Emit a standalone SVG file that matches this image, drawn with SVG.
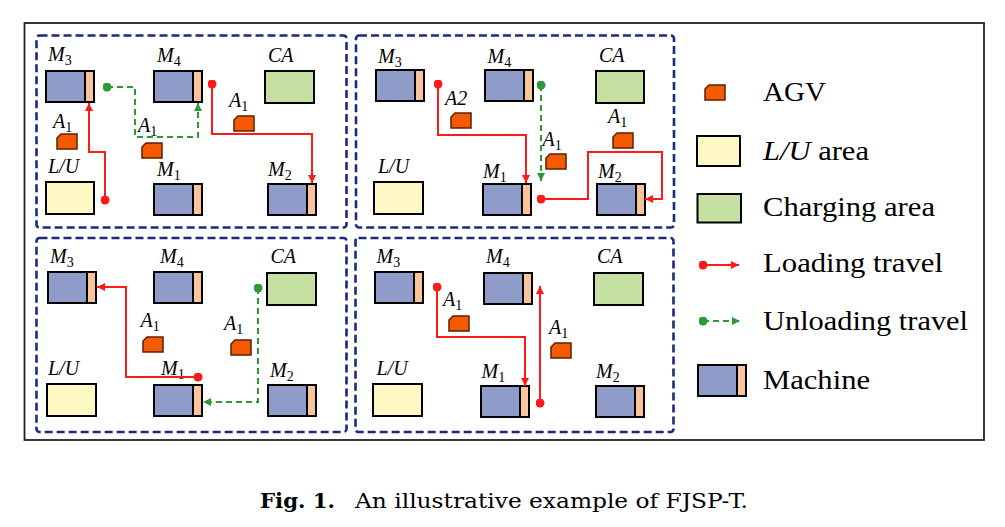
<svg xmlns="http://www.w3.org/2000/svg" xmlns:xlink="http://www.w3.org/1999/xlink" width="1005" height="527" viewBox="0 0 1005 527">
<style>
.lbl{font-family:"Liberation Serif","Times New Roman",serif;font-style:italic;font-size:20px;fill:#000}
.sub{font-size:14px;font-style:normal}
.leg{font-family:"Liberation Serif","Times New Roman",serif;font-size:26.5px;fill:#000}
.cap{font-family:"DejaVu Serif","Liberation Serif",serif;font-size:21px;fill:#000}
.panel{fill:none;stroke:#1b2a80;stroke-width:2.6;stroke-dasharray:8 4}
.ca{fill:#c6e0a1;stroke:#000;stroke-width:2}
.lu{fill:#fff8c5;stroke:#000;stroke-width:2}
.red{fill:none;stroke:#ff1a1a;stroke-width:2;marker-start:url(#dotR);marker-end:url(#arrR)}
.grn{fill:none;stroke:#2b9a34;stroke-width:2;stroke-dasharray:6 4;marker-start:url(#dotG);marker-end:url(#arrG)}
</style>
<defs>
<g id="mach">
<rect x="0" y="0" width="39" height="31" fill="#8f9bc9" stroke="#000" stroke-width="2"/>
<rect x="39" y="0" width="9" height="31" fill="#f9c49b" stroke="#000" stroke-width="2"/>
</g>
<path id="agv" d="M4,0 H20 V15 H0 V4 Z" fill="#f55a00" stroke="#5c2000" stroke-width="1.5"/>
<marker id="dotR" viewBox="0 0 10 10" refX="5" refY="5" markerWidth="9" markerHeight="9" markerUnits="userSpaceOnUse"><circle cx="5" cy="5" r="5" fill="#ff1a1a"/></marker>
<marker id="arrR" viewBox="0 0 10 10" refX="10" refY="5" markerWidth="9" markerHeight="8" orient="auto" markerUnits="userSpaceOnUse"><path d="M0,0 L10,5 L0,10 Z" fill="#ff1a1a"/></marker>
<marker id="dotG" viewBox="0 0 10 10" refX="5" refY="5" markerWidth="9" markerHeight="9" markerUnits="userSpaceOnUse"><circle cx="5" cy="5" r="5" fill="#2b9a34"/></marker>
<marker id="arrG" viewBox="0 0 10 10" refX="10" refY="5" markerWidth="9" markerHeight="8" orient="auto" markerUnits="userSpaceOnUse"><path d="M0,0 L10,5 L0,10 Z" fill="#2b9a34"/></marker>
</defs>
<rect x="0" y="0" width="1005" height="527" fill="#fff"/>
<rect id="frame" x="24.5" y="23" width="959.5" height="417" fill="none" stroke="#222" stroke-width="1.8"/>

<g id="panels">
<rect class="panel" x="36.5" y="35.5" width="310" height="192" rx="3"/>
<rect class="panel" x="356" y="35.5" width="318" height="192" rx="3"/>
<rect class="panel" x="36.5" y="238" width="310" height="194" rx="3"/>
<rect class="panel" x="355.5" y="238" width="318" height="194" rx="3"/>
</g>

<!-- Panel 1 -->
<g id="p1-M3"><use xlink:href="#mach" x="46" y="71"/><text class="lbl" x="48" y="61">M<tspan class="sub" dy="4">3</tspan></text></g>
<g id="p1-M4"><use xlink:href="#mach" x="154" y="71"/><text class="lbl" x="157" y="62">M<tspan class="sub" dy="4">4</tspan></text></g>
<g id="p1-CA"><rect class="ca" x="265" y="71" width="49" height="32"/><text class="lbl" x="268" y="62">CA</text></g>
<g id="p1-LU"><rect class="lu" x="46" y="182" width="48" height="32"/><text class="lbl" x="48" y="173">L/U</text></g>
<g id="p1-M1"><use xlink:href="#mach" x="154" y="184"/><text class="lbl" x="157" y="176">M<tspan class="sub" dy="4">1</tspan></text></g>
<g id="p1-M2"><use xlink:href="#mach" x="268" y="184"/><text class="lbl" x="268" y="176">M<tspan class="sub" dy="4">2</tspan></text></g>
<g id="p1-agv1"><use xlink:href="#agv" x="57" y="134"/><text class="lbl" x="53" y="128">A<tspan class="sub" dy="4">1</tspan></text></g>
<g id="p1-agv2"><use xlink:href="#agv" x="142" y="143"/><text class="lbl" x="138" y="132">A<tspan class="sub" dy="4">1</tspan></text></g>
<g id="p1-agv3"><use xlink:href="#agv" x="234" y="116"/><text class="lbl" x="229" y="107">A<tspan class="sub" dy="4">1</tspan></text></g>

<!-- Panel 2 -->
<g id="p2-M3"><use xlink:href="#mach" x="376" y="70"/><text class="lbl" x="378" y="63">M<tspan class="sub" dy="4">3</tspan></text></g>
<g id="p2-M4"><use xlink:href="#mach" x="485" y="70"/><text class="lbl" x="487.5" y="63">M<tspan class="sub" dy="4">4</tspan></text></g>
<g id="p2-CA"><rect class="ca" x="596" y="71" width="48" height="32"/><text class="lbl" x="599" y="62">CA</text></g>
<g id="p2-LU"><rect class="lu" x="374" y="182" width="49" height="32"/><text class="lbl" x="378" y="173">L/U</text></g>
<g id="p2-M1"><use xlink:href="#mach" x="483" y="184"/><text class="lbl" x="483" y="178">M<tspan class="sub" dy="4">1</tspan></text></g>
<g id="p2-M2"><use xlink:href="#mach" x="597" y="184"/><text class="lbl" x="598" y="178">M<tspan class="sub" dy="4">2</tspan></text></g>
<g id="p2-agv1"><use xlink:href="#agv" x="451" y="113"/><text class="lbl" x="445" y="105">A2</text></g>
<g id="p2-agv2"><use xlink:href="#agv" x="546" y="154"/><text class="lbl" x="542.5" y="146">A<tspan class="sub" dy="4">1</tspan></text></g>
<g id="p2-agv3"><use xlink:href="#agv" x="613" y="133"/><text class="lbl" x="608" y="123">A<tspan class="sub" dy="4">1</tspan></text></g>

<!-- Panel 3 -->
<g id="p3-M3"><use xlink:href="#mach" x="48" y="272"/><text class="lbl" x="50" y="263">M<tspan class="sub" dy="4">3</tspan></text></g>
<g id="p3-M4"><use xlink:href="#mach" x="154" y="272"/><text class="lbl" x="160" y="263">M<tspan class="sub" dy="4">4</tspan></text></g>
<g id="p3-CA"><rect class="ca" x="267" y="273" width="49" height="32"/><text class="lbl" x="270.5" y="263">CA</text></g>
<g id="p3-LU"><rect class="lu" x="47" y="384" width="49" height="32"/><text class="lbl" x="48" y="375">L/U</text></g>
<g id="p3-M1"><use xlink:href="#mach" x="154" y="385"/><text class="lbl" x="161" y="375">M<tspan class="sub" dy="4">1</tspan></text></g>
<g id="p3-M2"><use xlink:href="#mach" x="268" y="385"/><text class="lbl" x="270" y="377">M<tspan class="sub" dy="4">2</tspan></text></g>
<g id="p3-agv1"><use xlink:href="#agv" x="143" y="337"/><text class="lbl" x="140.5" y="327">A<tspan class="sub" dy="4">1</tspan></text></g>
<g id="p3-agv2"><use xlink:href="#agv" x="231" y="340"/><text class="lbl" x="224" y="330">A<tspan class="sub" dy="4">1</tspan></text></g>

<!-- Panel 4 -->
<g id="p4-M3"><use xlink:href="#mach" x="375" y="272"/><text class="lbl" x="376.5" y="263">M<tspan class="sub" dy="4">3</tspan></text></g>
<g id="p4-M4"><use xlink:href="#mach" x="484" y="273"/><text class="lbl" x="486" y="263">M<tspan class="sub" dy="4">4</tspan></text></g>
<g id="p4-CA"><rect class="ca" x="594" y="273" width="49" height="32"/><text class="lbl" x="597" y="263">CA</text></g>
<g id="p4-LU"><rect class="lu" x="373" y="384" width="49" height="32"/><text class="lbl" x="376.5" y="375">L/U</text></g>
<g id="p4-M1"><use xlink:href="#mach" x="481" y="386"/><text class="lbl" x="481.5" y="378">M<tspan class="sub" dy="4">1</tspan></text></g>
<g id="p4-M2"><use xlink:href="#mach" x="596" y="386"/><text class="lbl" x="596" y="378">M<tspan class="sub" dy="4">2</tspan></text></g>
<g id="p4-agv1"><use xlink:href="#agv" x="449" y="316"/><text class="lbl" x="443" y="306">A<tspan class="sub" dy="4">1</tspan></text></g>
<g id="p4-agv2"><use xlink:href="#agv" x="551" y="343"/><text class="lbl" x="549" y="334">A<tspan class="sub" dy="4">1</tspan></text></g>

<g id="connectors">
<path class="red" d="M105,200 V152 H89 V103"/>
<path class="red" d="M212,84 V134 H312 V183"/>
<path class="grn" d="M107,87 H135 V137 H198 V103"/>
<path class="red" d="M438,84 V135 H526 V183"/>
<path class="grn" d="M541,85 V181"/>
<path class="red" d="M541,199 H588 V152 H662 V199 H645"/>
<path class="red" d="M198,377 H126 V287 H97"/>
<path class="grn" d="M258,288 V402 H203"/>
<path class="red" d="M437,287 V337 H525 V386"/>
<path class="red" d="M540,403 V286"/>
<path class="red" d="M703,265 H739" stroke-width="1.6"/>
<path class="grn" d="M703,321 H740" stroke-width="1.6" stroke-dasharray="7 5"/>
</g>

<g id="legend">
<g id="leg-agv"><use xlink:href="#agv" x="705" y="85"/><text class="leg" x="763" y="100.5" textLength="63" lengthAdjust="spacingAndGlyphs">AGV</text></g>
<g id="leg-lu"><rect class="lu" x="697" y="136" width="43" height="30"/><text class="leg" x="763" y="159.5" textLength="106" lengthAdjust="spacingAndGlyphs"><tspan font-style="italic">L/U</tspan> area</text></g>
<g id="leg-ca"><rect class="ca" x="697.5" y="194" width="43.5" height="28.5"/><text class="leg" x="763" y="216" textLength="172" lengthAdjust="spacingAndGlyphs">Charging area</text></g>
<g id="leg-load"><text class="leg" x="763" y="271.5" textLength="180" lengthAdjust="spacingAndGlyphs">Loading travel</text></g>
<g id="leg-unload"><text class="leg" x="763" y="329.5" textLength="205" lengthAdjust="spacingAndGlyphs">Unloading travel</text></g>
<g id="leg-mach"><use xlink:href="#mach" x="698" y="365"/><text class="leg" x="763" y="388.5" textLength="107" lengthAdjust="spacingAndGlyphs">Machine</text></g>
</g>

<g id="caption">
<text class="cap" x="260" y="508" font-weight="bold" textLength="75" lengthAdjust="spacingAndGlyphs">Fig. 1.</text>
<text class="cap" x="355" y="508" textLength="393" lengthAdjust="spacingAndGlyphs">An illustrative example of FJSP-T.</text>
</g>
</svg>
